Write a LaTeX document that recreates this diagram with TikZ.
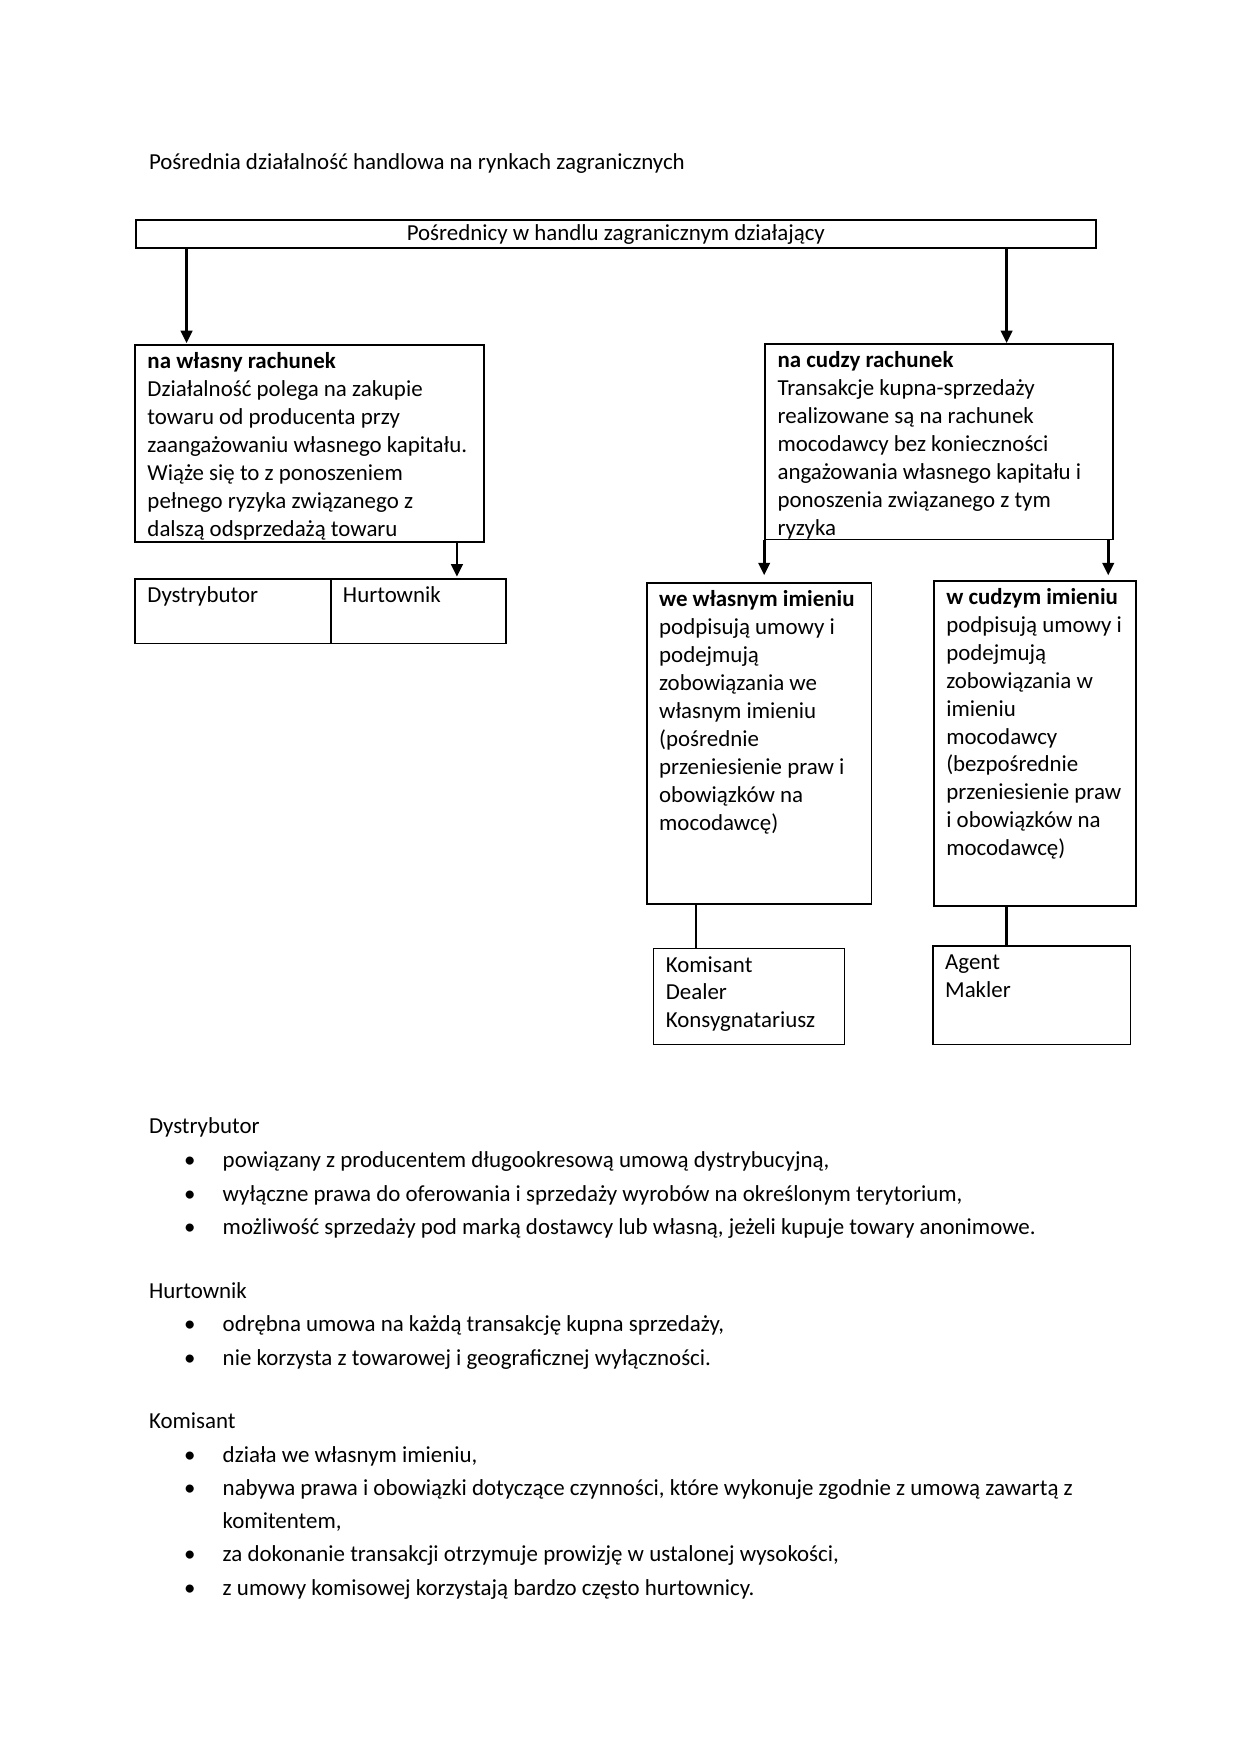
\documentclass[tikz,border=0pt]{standalone}
\usepackage{fontspec}
\setmainfont{Carlito}
\usetikzlibrary{arrows.meta}
\newdimen\uu \uu=0.5363pt
\tikzset{
  bx/.style={draw, line width=0.8pt, anchor=north west, inner xsep=5.9pt, inner ysep=0.4pt, outer sep=0pt},
  arr/.style={line width=1.3pt, -{Triangle[width=5.5pt,length=6pt]}},
  conn/.style={line width=0.8pt},
  txt/.style={anchor=base west, inner sep=0pt},
  bul/.style={anchor=base, inner sep=0pt}
}
\newcommand\drawbox[6]{\node[bx, minimum width=#4\uu, minimum height=#5\uu] (#1) at (#2,#3) {\parbox[t][\dimexpr#5\uu-0.8pt\relax][t]{\dimexpr#4\uu-11.8pt\relax}{\raggedright\rule{0pt}{10.9pt}#6}};}
\begin{document}
\begin{tikzpicture}[x=0.5363pt, y=-0.5363pt, font=\fontsize{11pt}{13.4pt}\selectfont]
\path[fill=white, use as bounding box] (0,0) rectangle (1110,1570);

\node[txt] (title) at (133,152) {Pośrednia działalność handlowa na rynkach zagranicznych};

\node[draw, line width=0.8pt, minimum width=859\uu, minimum height=25\uu, inner sep=0pt, text height=9.8pt, text depth=3.6pt, anchor=north west] (top) at (121,196) {Pośrednicy w handlu zagranicznym działający};

\drawbox{L1}{121}{309}{312}{176}{\textbf{na własny rachunek}\\
Działalność polega na zakupie\\
towaru od producenta przy\\
zaangażowaniu własnego kapitału.\\
Wiąże się to z ponoszeniem\\
pełnego ryzyka związanego z\\
dalszą odsprzedażą towaru}

\drawbox{D}{121}{518}{175}{58}{Dystrybutor}
\drawbox{H}{296}{518}{157}{58}{Hurtownik}

\drawbox{R1}{685}{308}{311}{175}{\textbf{na cudzy rachunek}\\
Transakcje kupna-sprzedaży\\
realizowane są na rachunek\\
mocodawcy bez konieczności\\
angażowania własnego kapitału i\\
ponoszenia związanego z tym\\
ryzyka}

\drawbox{W1}{579}{522}{201}{287}{\textbf{we własnym imieniu}\\
podpisują umowy i\\
podejmują\\
zobowiązania we\\
własnym imieniu\\
(pośrednie\\
przeniesienie praw i\\
obowiązków na\\
mocodawcę)}

\drawbox{W2}{836}{520}{181}{291}{\textbf{w cudzym imieniu}\\
podpisują umowy i\\
podejmują\\
zobowiązania w\\
imieniu\\
mocodawcy\\
(bezpośrednie\\
przeniesienie praw\\
i obowiązków na\\
mocodawcę)}

\drawbox{K}{585}{849}{171}{86}{Komisant\\
Dealer\\
Konsygnatariusz}

\drawbox{A}{835}{847}{177}{88}{Agent\\
Makler}

\coordinate (xa) at (167,0);
\coordinate (xb) at (901,0);
\coordinate (xc) at (409,0);
\coordinate (xd) at (684,0);
\coordinate (xe) at (992,0);
\coordinate (xf) at (623,0);
\coordinate (xg) at (901,0);

\draw[arr, shorten >=1pt] (top.south -| xa) -- (L1.north -| xa);
\draw[arr, shorten >=0.5pt] (top.south -| xb) -- (R1.north -| xb);
\draw[arr, shorten >=1pt] (L1.south -| xc) -- (H.north -| xc);
\draw[arr, shorten >=3.8pt] (R1.south -| xd) -- (W1.north -| xd);
\draw[arr, shorten >=2.7pt] (R1.south -| xe) -- (W2.north -| xe);
\draw[conn] (W1.south -| xf) -- (K.north -| xf);
\draw[line width=1.3pt] (W2.south -| xg) -- (A.north -| xg);

% bottom text
\node[txt] (hd1) at (133,1015) {Dystrybutor};
\node[bul] (b11) at (170,1045) {•};
\node[txt] (t11) at (199,1045) {powiązany z producentem długookresową umową dystrybucyjną,};
\node[bul] (b12) at (170,1075) {•};
\node[txt] (t12) at (199,1075) {wyłączne prawa do oferowania i sprzedaży wyrobów na określonym terytorium,};
\node[bul] (b13) at (170,1105) {•};
\node[txt] (t13) at (199,1105) {możliwość sprzedaży pod marką dostawcy lub własną, jeżeli kupuje towary anonimowe.};

\node[txt] (hd2) at (133,1162) {Hurtownik};
\node[bul] (b21) at (170,1192) {•};
\node[txt] (t21) at (199,1192) {odrębna umowa na każdą transakcję kupna sprzedaży,};
\node[bul] (b22) at (170,1222) {•};
\node[txt] (t22) at (199,1222) {nie korzysta z towarowej i geograficznej wyłączności.};

\node[txt] (hd3) at (133,1279) {Komisant};
\node[bul] (b31) at (170,1309) {•};
\node[txt] (t31) at (199,1309) {działa we własnym imieniu,};
\node[bul] (b32) at (170,1339) {•};
\node[txt] (t32) at (199,1339) {nabywa prawa i obowiązki dotyczące czynności, które wykonuje zgodnie z umową zawartą z};
\node[txt] (t32b) at (199,1368) {komitentem,};
\node[bul] (b33) at (170,1398) {•};
\node[txt] (t33) at (199,1398) {za dokonanie transakcji otrzymuje prowizję w ustalonej wysokości,};
\node[bul] (b34) at (170,1428) {•};
\node[txt] (t34) at (199,1428) {z umowy komisowej korzystają bardzo często hurtownicy.};
\end{tikzpicture}
\end{document}
